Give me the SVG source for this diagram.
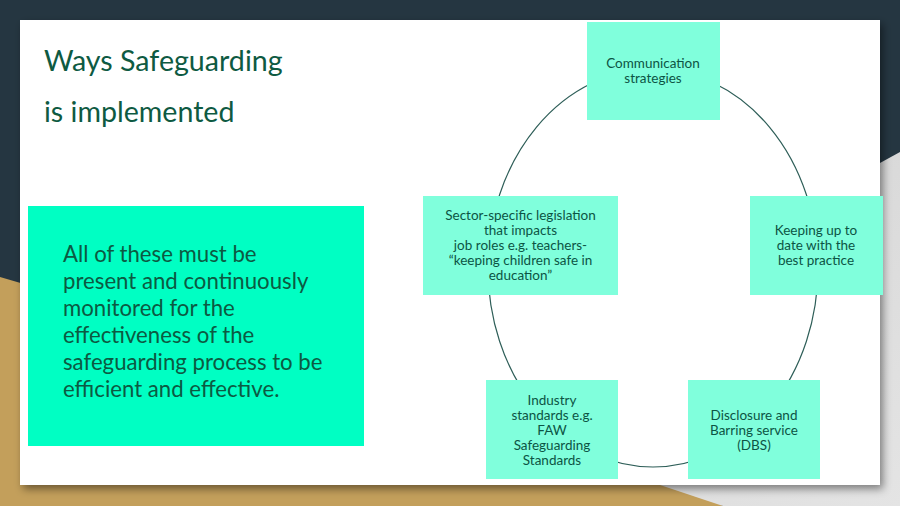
<svg xmlns="http://www.w3.org/2000/svg" width="900" height="506" viewBox="0 0 900 506">
  <defs>
    <filter id="shadow" x="-5%" y="-5%" width="110%" height="115%">
      <feDropShadow dx="3" dy="4" stdDeviation="4" flood-color="#000" flood-opacity="0.45"/>
    </filter>
    <linearGradient id="grayGrad" x1="0" y1="0" x2="1" y2="1">
      <stop offset="0" stop-color="#cfcfcf"/>
      <stop offset="1" stop-color="#e4e4e4"/>
    </linearGradient>
  </defs>
  <style>
    .title { font-family: Lato, "Liberation Sans", sans-serif; font-size: 28.6px; fill: #0e5a42; }
    .body { font-family: Lato, "Liberation Sans", sans-serif; font-size: 22.2px; fill: #0c5a42; }
    .lbl { font-family: Lato, "Liberation Sans", sans-serif; font-size: 13.5px; fill: #0c5444; text-anchor: middle; }
    .box { fill: #80FFDC; }
    .conn { fill: none; stroke: #2e5e58; stroke-width: 1.2; }
  </style>

  <!-- background -->
  <rect x="0" y="0" width="900" height="506" fill="#253641"/>
  <polygon points="0,277 660,470 723,506 0,506" fill="#c39f5b"/>
  <polygon points="900,152 432,409 723,506 900,506" fill="url(#grayGrad)"/>

  <!-- slide -->
  <rect x="20" y="20" width="860" height="465" fill="#ffffff" filter="url(#shadow)"/>

  <!-- title -->
  <g id="title">
    <text class="title" x="44" y="71">Ways Safeguarding</text>
    <text class="title" x="44" y="122">is implemented</text>
  </g>

  <!-- note box -->
  <g id="note">
    <rect x="28" y="206" width="336" height="240" fill="#00FFC3"/>
    <text class="body" x="63" y="262">All of these must be</text>
    <text class="body" x="63" y="289">present and continuously</text>
    <text class="body" x="63" y="316">monitored for the</text>
    <text class="body" x="63" y="343">effectiveness of the</text>
    <text class="body" x="63" y="370">safeguarding process to be</text>
    <text class="body" x="63" y="397">efficient and effective.</text>
  </g>

  <!-- connectors -->
  <g id="connectors">
    <ellipse class="conn" cx="653" cy="268" rx="165" ry="199"/>
  </g>

  <g id="node-communication">
    <rect class="box" x="587" y="22" width="133" height="98"/>
    <text class="lbl" x="653" y="68">Communication</text>
    <text class="lbl" x="653" y="83">strategies</text>
  </g>

  <g id="node-keeping">
    <rect class="box" x="750" y="196" width="133" height="99"/>
    <text class="lbl" x="816" y="235">Keeping up to</text>
    <text class="lbl" x="816" y="250">date with the</text>
    <text class="lbl" x="816" y="265">best practice</text>
  </g>

  <g id="node-dbs">
    <rect class="box" x="688" y="380" width="132" height="99"/>
    <text class="lbl" x="754" y="420">Disclosure and</text>
    <text class="lbl" x="754" y="435">Barring service</text>
    <text class="lbl" x="754" y="450">(DBS)</text>
  </g>

  <g id="node-industry">
    <rect class="box" x="486" y="380" width="132" height="99"/>
    <text class="lbl" x="552" y="405">Industry</text>
    <text class="lbl" x="552" y="420">standards e.g.</text>
    <text class="lbl" x="552" y="435">FAW</text>
    <text class="lbl" x="552" y="450">Safeguarding</text>
    <text class="lbl" x="552" y="465">Standards</text>
  </g>

  <g id="node-sector">
    <rect class="box" x="423" y="196" width="195" height="99"/>
    <text class="lbl" x="520.5" y="220">Sector-specific legislation</text>
    <text class="lbl" x="520.5" y="235">that impacts</text>
    <text class="lbl" x="520.5" y="250">job roles e.g. teachers-</text>
    <text class="lbl" x="520.5" y="265">“keeping children safe in</text>
    <text class="lbl" x="520.5" y="280">education”</text>
  </g>
</svg>
